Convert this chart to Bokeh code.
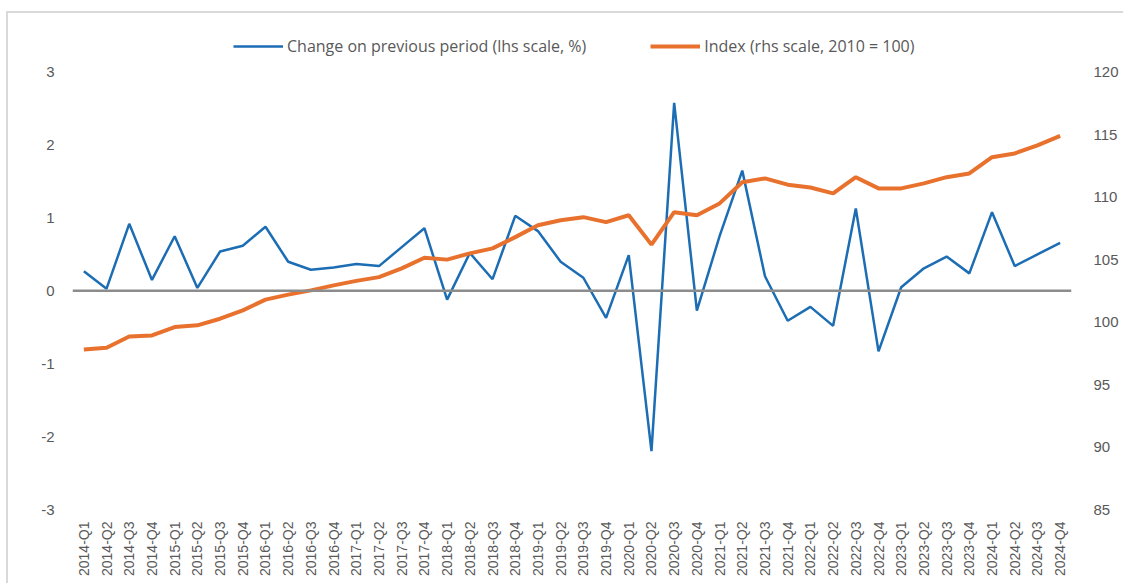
from bokeh.plotting import figure
from bokeh.models import (FactorRange, Range1d, LinearAxis, FixedTicker, Span,
                          Legend, LegendItem)
from bokeh.embed import file_html
from bokeh.resources import INLINE

quarters = [f"{y}-Q{q}" for y in range(2014, 2025) for q in range(1, 5)]

change = [0.27, 0.03, 0.92, 0.15, 0.75, 0.04, 0.54, 0.62, 0.88, 0.40, 0.29, 0.32,
          0.37, 0.34, 0.60, 0.86, -0.12, 0.52, 0.16, 1.03, 0.82, 0.40, 0.18, -0.37,
          0.49, -2.20, 2.58, -0.27, 0.75, 1.65, 0.20, -0.41, -0.22, -0.48, 1.13, -0.83,
          0.05, 0.31, 0.47, 0.24, 1.08, 0.34, 0.50, 0.66]

index = [97.8, 97.95, 98.85, 98.93, 99.6, 99.74, 100.27, 100.94, 101.8, 102.2, 102.54, 102.94,
         103.3, 103.6, 104.3, 105.15, 105.0, 105.5, 105.9, 106.8, 107.75, 108.15, 108.4, 108.0,
         108.55, 106.2, 108.8, 108.55, 109.5, 111.2, 111.5, 111.0, 110.77, 110.3, 111.6, 110.7,
         110.7, 111.1, 111.6, 111.9, 113.2, 113.5, 114.15, 114.9]

left_ticks = [-3, -2, -1, 0, 1, 2, 3]
right_ticks = [85, 90, 95, 100, 105, 110, 115, 120]

FONT = "Liberation Sans"
GREY = "#595959"
BLUE = "#1C6DB3"
ORANGE = "#E8712E"

# left scale -3..3 (+ headroom for the legend); right scale keeps 85..120 aligned with -3..3
Y_TOP = 3.6
p = figure(width=1117, height=572, x_range=FactorRange(*quarters, range_padding=0),
           y_range=Range1d(-3, Y_TOP), output_backend="svg", toolbar_location=None,
           min_border_left=64, min_border_right=54, min_border_top=15, min_border_bottom=76)
p.margin = (11, 0, 0, 6)
p.styles = {"border-top": "2px solid #d9d9d9", "border-left": "2px solid #d9d9d9"}
p.extra_y_ranges = {"idx": Range1d(85, 85 + (Y_TOP + 3) * 35 / 6)}
p.outline_line_color = None
p.background_fill_color = "white"
p.border_fill_color = "white"
p.xgrid.grid_line_color = None
p.ygrid.grid_line_color = None

p.add_layout(Span(location=0, dimension="width", line_color="#8C8C8C", line_width=2.5))

r1 = p.line(quarters, change, line_color=BLUE, line_width=2.5)
r2 = p.line(quarters, index, line_color=ORANGE, line_width=4, y_range_name="idx")

ax = p.yaxis[0]
ax.ticker = FixedTicker(ticks=left_ticks)
ax.major_label_overrides = {t: str(t) for t in left_ticks}

rax = LinearAxis(y_range_name="idx", ticker=FixedTicker(ticks=right_ticks))
p.add_layout(rax, "right")

for a in (ax, rax):
    a.axis_line_color = None
    a.major_tick_line_color = None
    a.minor_tick_line_color = None
    a.major_label_text_color = GREY
    a.major_label_text_font = FONT
    a.major_label_text_font_size = "15px"
ax.major_label_standoff = 12
rax.major_label_standoff = 16

xa = p.xaxis[0]
xa.axis_line_color = None
xa.major_tick_line_color = None
xa.minor_tick_line_color = None
xa.major_label_orientation = 1.5708
xa.major_label_text_color = GREY
xa.major_label_text_font = FONT
xa.major_label_text_font_size = "14px"
xa.major_label_standoff = 6

legend = Legend(items=[LegendItem(label="Change on previous period (lhs scale, %)", renderers=[r1]),
                       LegendItem(label="Index (rhs scale, 2010 = 100)", renderers=[r2])],
                orientation="horizontal", location=(161, 452),
                label_text_font="Open Sans", label_text_font_size="16px", label_text_color=GREY,
                glyph_width=50, label_standoff=4, spacing=64, border_line_color=None,
                background_fill_alpha=0, padding=0, margin=0)
p.add_layout(legend, "center")

open("out.html", "w").write(file_html(p, INLINE))
